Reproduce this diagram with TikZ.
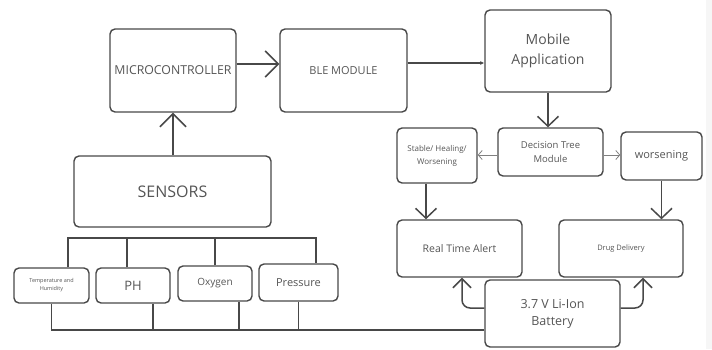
\documentclass[tikz,border=0pt]{standalone}
\usepackage{fontspec}
\setmainfont{Open Sans}
\usetikzlibrary{arrows.meta}
\definecolor{linegray}{RGB}{72,72,72}
\definecolor{textgray}{RGB}{85,85,85}
\tikzset{
	block/.style={draw=linegray, line width=1.4pt, rounded corners=5pt, align=center,
		inner sep=0pt, text=textgray},
	wire/.style={draw=linegray, line width=1.5pt},
	bigarrow/.style={wire, -{Straight Barb[length=13pt,width=26pt,line width=1.5pt]}},
	midarrow/.style={wire, -{Straight Barb[length=10pt,width=21pt,line width=1.5pt]}},
	thinarrow/.style={draw=gray, line width=0.8pt, -{Straight Barb[length=4pt,width=9pt]}}
}
\begin{document}
\begin{tikzpicture}[x=1pt, y=-1pt]
		\useasboundingbox (0,0) rectangle (712,349);
		\fill[gray!7] (706,0) rectangle (712,349);

		% top row
		\node[block, minimum width=126pt, minimum height=83pt, font=\fontsize{12.3}{13}\selectfont] (micro) at (173,70.5) {MICROCONTROLLER};
		\node[block, minimum width=127pt, minimum height=83pt, font=\fontsize{11}{13}\selectfont] (ble) at (343.5,70.5) {BLE MODULE};
		\node[block, minimum width=126pt, minimum height=82pt, font=\fontsize{14}{20}\selectfont] (mobile) at (548,51) {Mobile\\Application};

		% decision layer
		\node[block, minimum width=105pt, minimum height=48pt, font=\fontsize{9.5}{14}\selectfont] (tree) at (550.5,152) {Decision Tree\\Module};
		\node[block, minimum width=80pt, minimum height=55pt, font=\fontsize{8}{13}\selectfont] (state) at (437,155.5) {Stable/ Healing/\\Worsening};
		\node[block, minimum width=81pt, minimum height=48pt, font=\fontsize{11}{13}\selectfont] (worse) at (661.5,156) {worsening};

		% outputs and power
		\node[block, minimum width=125pt, minimum height=57pt, font=\fontsize{10.5}{13}\selectfont] (alert) at (459.5,248.5) {Real Time Alert};
		\node[block, minimum width=124pt, minimum height=57pt, font=\fontsize{7.5}{10}\selectfont] (drug) at (621,248.5) {Drug Delivery};
		\node[block, minimum width=135pt, minimum height=67pt, font=\fontsize{12.5}{17}\selectfont] (battery) at (552.5,313.5) {3.7 V Li-Ion\\Battery};

		% sensors
		\node[block, minimum width=197pt, minimum height=71pt, font=\fontsize{16}{18}\selectfont] (sensors) at (172.5,191.5) {SENSORS};
		\node[block, minimum width=75pt, minimum height=35pt, font=\fontsize{5.5}{8}\selectfont] (temp) at (51.5,285.5) {Temperature and\\Humidity};
		\node[block, minimum width=74pt, minimum height=35pt, font=\fontsize{13}{15}\selectfont] (ph) at (133,285.5) {\raisebox{-4pt}{PH}};
		\node[block, minimum width=74pt, minimum height=35pt, font=\fontsize{10}{13}\selectfont] (oxy) at (215,283.5) {Oxygen};
		\node[block, minimum width=79pt, minimum height=37pt, font=\fontsize{11}{13}\selectfont] (press) at (298.5,282.5) {Pressure};

		\coordinate (topbus) at (0,238);
		\coordinate (lowbus) at (0,330);
		\coordinate (pressdrop) at ([xshift=17.5pt]press.north);

		% data path
		\draw[bigarrow] (micro.east |- 0,64) -- (ble.west |- 0,64);
		\draw[wire, -{Latex[length=4pt,width=4pt]}] (ble.east |- 0,63) -- (mobile.west |- 0,63);
		\draw[bigarrow] (sensors.north -| micro) -- (micro.south);
		\draw[midarrow] (mobile.south) -- (tree.north -| mobile);
		\draw[thinarrow] (tree.west |- 0,155) -- (state.east |- 0,155);
		\draw[thinarrow] (tree.east |- 0,155) -- (worse.west |- 0,155);
		\draw[midarrow] ([xshift=-11pt]state.south) -- ([xshift=-11pt]state.south |- alert.north);
		\draw[midarrow] (worse.south) -- (worse.south |- drug.north);

		% sensor buses
		\draw[wire] ([xshift=16.5pt]temp.north) |- (topbus -| pressdrop) -- (pressdrop);
		\draw[wire] ([xshift=-6pt]ph.north) -- ([xshift=-6pt]ph.north |- topbus);
		\draw[wire] (oxy.north) -- (oxy.north |- topbus);
		\draw[wire] (temp.south) |- (lowbus -| battery.west);
		\draw[wire] ([xshift=20pt]ph.south) -- ([xshift=20pt]ph.south |- lowbus);
		\draw[wire] ([xshift=24pt]oxy.south) -- ([xshift=24pt]oxy.south |- lowbus);
		\draw[wire] (press.south) -- (press.south |- lowbus);

		% power to outputs
		\draw[wire, rounded corners=8pt, -{Straight Barb[length=9pt,width=18pt,line width=1.5pt]}] ([yshift=5.5pt]battery.west) -| ([xshift=2.5pt]alert.south);
		\draw[wire, rounded corners=8pt, -{Straight Barb[length=9pt,width=18pt,line width=1.5pt]}] ([yshift=5.5pt]battery.east) -| ([xshift=22pt]drug.south);
	\end{tikzpicture}
\end{document}
